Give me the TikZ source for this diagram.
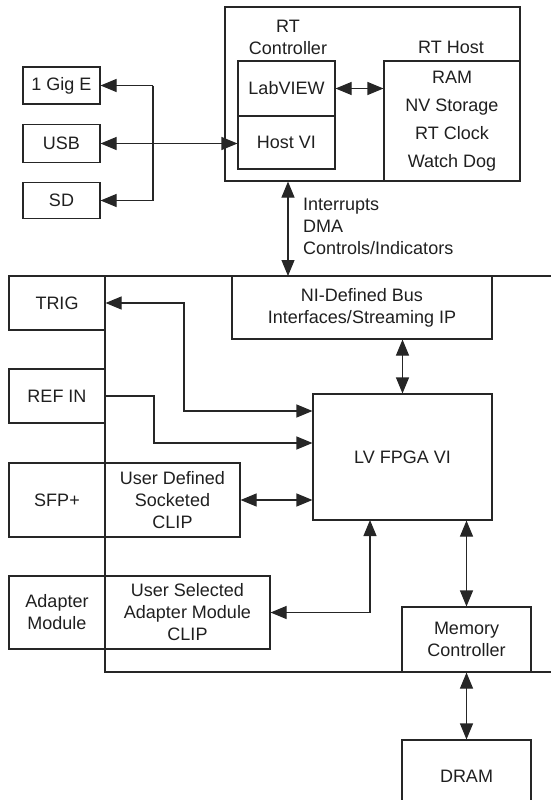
\documentclass[tikz,border=0pt]{standalone}
\usepackage{fontspec}
\setmainfont{Liberation Sans}
\usetikzlibrary{arrows.meta}
\begin{document}
\begin{tikzpicture}[x=1pt,y=-1pt,
  every node/.style={font=\fontsize{18}{22}\selectfont, text=black!88},
  box/.style={draw=black!85, line width=1.1pt, rectangle, inner sep=0pt, align=center},
  conn/.style={draw=black!85, line width=1.1pt, {Triangle[length=16pt,width=13pt]}-{Triangle[length=16pt,width=13pt]}},
  conn1/.style={draw=black!85, line width=1.1pt, -{Triangle[length=16pt,width=13pt]}},
  plain/.style={draw=black!85, line width=1.1pt},
  lbl/.style={inner sep=0pt, align=center}]
\useasboundingbox (0,0) rectangle (551,800);

% RT controller area
\node[box, minimum width=295pt, minimum height=174pt] (rtouter) at (372.5,94) {};
\node[lbl] (rtlbl) at (288,37) {RT\\Controller};
\node[lbl, anchor=base] (rthostlbl) at (451,54) {RT Host};
\node[box, minimum width=97pt, minimum height=55pt] (labview) at (286.5,88.5) {LabVIEW};
\node[box, minimum width=97pt, minimum height=53pt] (hostvi) at (286.5,142.5) {Host VI};
\node[box, minimum width=136pt, minimum height=120pt,
      font=\fontsize{18}{28}\selectfont] (rthost) at (452,121) {RAM\\NV Storage\\RT Clock\\Watch Dog};

% external ports
\node[box, minimum width=77pt, minimum height=37pt] (gige) at (61.5,85.5) {1 Gig E};
\node[box, minimum width=77pt, minimum height=38pt] (usb) at (61.5,143.5) {USB};
\node[box, minimum width=77pt, minimum height=36pt] (sd) at (61.5,200.5) {SD};
\coordinate (jtop) at (153,85.5);
\coordinate (jbot) at (153,200.5);

\draw[conn] (labview.east) -- (labview.east -| rthost.west);
\draw[conn] (usb.east) -- (usb.east -| hostvi.west);
\draw[conn1] (jtop) -- (gige.east);
\draw[conn1] (jbot) -- (sd.east);
\draw[plain] (jtop) -- (jbot);

% RT <-> FPGA
\coordinate (bustop) at (288,276);
\draw[conn] (rtouter.south -| bustop) -- (bustop);
\node[lbl, anchor=west, align=left] (irq) at (303,226) {Interrupts\\DMA\\Controls/Indicators};

% FPGA boundary
\coordinate (busTL) at (9,276);
\coordinate (busTR) at (551,276);
\coordinate (busLT) at (105,276);
\coordinate (busLB) at (105,672);
\coordinate (busBR) at (551,672);
\draw[plain] (busTL) -- (busTR);
\draw[plain] (busLT) -- (busLB) -- (busBR);

\node[box, minimum width=96pt, minimum height=54pt] (trig) at (57,303) {TRIG};
\node[box, minimum width=260pt, minimum height=63pt] (nibus) at (362,307.5) {NI-Defined Bus\\Interfaces/Streaming IP};
\node[box, minimum width=96pt, minimum height=54pt] (refin) at (57,396) {REF IN};
\node[box, minimum width=179pt, minimum height=126pt] (lvfpga) at (402.5,457) {LV FPGA VI};
\node[box, minimum width=96pt, minimum height=74pt] (sfp) at (57,500) {SFP+};
\node[box, minimum width=135pt, minimum height=74pt] (sfpclip) at (172.5,500) {User Defined\\Socketed\\CLIP};
\node[box, minimum width=96pt, minimum height=73pt] (adapter) at (57,612.5) {Adapter\\Module};
\node[box, minimum width=165pt, minimum height=73pt] (adclip) at (187.5,612.5) {User Selected\\Adapter Module\\CLIP};
\node[box, minimum width=129pt, minimum height=65pt] (memctl) at (466.5,639.5) {Memory\\Controller};
\node[box, minimum width=129pt, minimum height=72pt] (dram) at (466.5,776) {DRAM};

\coordinate (tA) at (184,411);
\coordinate (rA) at (154,443);
\coordinate (aA) at (370,520);

\draw[conn] (lvfpga.north |- nibus.south) -- (lvfpga.north);
\draw[conn] (trig.east) -| (tA) -- (tA -| lvfpga.west);
\draw[conn1] (refin.east) -| (rA) -- (rA -| lvfpga.west);
\draw[conn] (sfpclip.east) -- (sfpclip.east -| lvfpga.west);
\draw[conn] (adclip.east) -| (aA);
\draw[conn] (memctl.north |- lvfpga.south) -- (memctl.north);
\draw[conn] (memctl.south) -- (dram.north);
\end{tikzpicture}
\end{document}
